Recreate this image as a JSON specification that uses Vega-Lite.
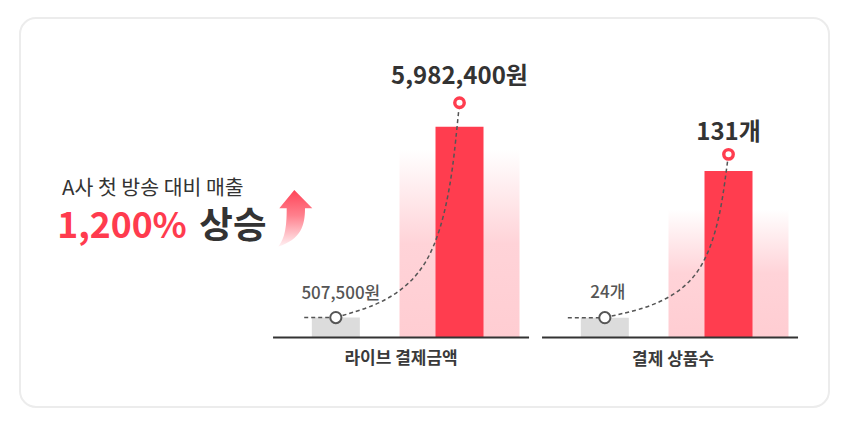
{
  "$schema": "https://vega.github.io/schema/vega-lite/v6.json",
  "width": 849,
  "height": 433,
  "autosize": {"type": "fit", "contains": "padding"},
  "padding": {"left": 20, "top": 18, "right": 20, "bottom": 26},
  "background": "#ffffff",
  "config": {
    "font": "Noto Sans CJK KR",
    "view": {"fill": "#ffffff", "stroke": "#ececec", "strokeWidth": 2, "cornerRadius": 16}
  },
  "datasets": {
    "bars": [
      {"panel": "라이브 결제금액", "period": "before", "value": 507500, "label": "507,500원"},
      {"panel": "라이브 결제금액", "period": "after", "value": 5982400, "label": "5,982,400원"},
      {"panel": "결제 상품수", "period": "before", "value": 24, "label": "24개"},
      {"panel": "결제 상품수", "period": "after", "value": 131, "label": "131개"}
    ],
    "curve": [
      {"panel": "라이브 결제금액", "period": "before", "value": 507500, "order": 1},
      {"panel": "라이브 결제금액", "period": "after", "value": 507500, "order": 2},
      {"panel": "라이브 결제금액", "period": "after", "value": 5982400, "order": 3},
      {"panel": "결제 상품수", "period": "before", "value": 24, "order": 1},
      {"panel": "결제 상품수", "period": "after", "value": 24, "order": 2},
      {"panel": "결제 상품수", "period": "after", "value": 131, "order": 3}
    ],
    "intro": [
      {"part": "sub", "text": "A사 첫 방송 대비 매출"},
      {"part": "pct", "text": "1,200%"},
      {"part": "word", "text": "상승"},
      {"part": "arrow", "text": ""}
    ]
  },
  "layer": [
    {
      "data": {"name": "intro"},
      "layer": [
        {
          "transform": [{"filter": "datum.part === 'sub'"}],
          "mark": {"type": "text", "align": "left", "baseline": "alphabetic", "dx": -362.5, "dy": -18, "fontSize": 20.5, "color": "#333333"},
          "encoding": {"text": {"field": "text"}}
        },
        {
          "transform": [{"filter": "datum.part === 'pct'"}],
          "mark": {"type": "text", "align": "left", "baseline": "alphabetic", "dx": -367.2, "dy": 25.5, "fontSize": 35.5, "fontWeight": "bold", "color": "#ff3b4e"},
          "encoding": {"text": {"field": "text"}}
        },
        {
          "transform": [{"filter": "datum.part === 'word'"}],
          "mark": {"type": "text", "align": "left", "baseline": "alphabetic", "dx": -225.2, "dy": 25.5, "fontSize": 36.5, "fontWeight": "bold", "color": "#333333"},
          "encoding": {"text": {"field": "text"}}
        },
        {
          "transform": [{"filter": "datum.part === 'arrow'"}],
          "mark": {
            "type": "point",
            "shape": "M-0.035,-1 L0.6,-0.353 L0.343,-0.353 C0.343,0.25 0.2,0.75 -0.6,1 C-0.4,0.75 -0.3,0.4 -0.304,-0.353 L-0.565,-0.353 Z",
            "size": 3204,
            "filled": true,
            "opacity": 1,
            "strokeWidth": 0,
            "xOffset": -129.2,
            "yOffset": 5.8,
            "fill": {"gradient": "linear", "x1": 0, "y1": 0, "x2": 0, "y2": 1, "stops": [{"offset": 0, "color": "#ff4458"}, {"offset": 0.45, "color": "#ff808d"}, {"offset": 1, "color": "#fff1f3"}]}
          },
          "encoding": {}
        }
      ]
    },
    {
      "layer": [
        {
          "data": {"name": "bars"},
          "transform": [{"filter": "datum.panel === '라이브 결제금액' && datum.period === 'after'"}],
          "mark": {"type": "bar", "width": 120, "fill": {"gradient": "linear", "x1": 0, "y1": 1, "x2": 0, "y2": 0, "stops": [{"offset": 0, "color": "#ffcdd2"}, {"offset": 0.4, "color": "#ffd3d8"}, {"offset": 0.8, "color": "#ffffff"}, {"offset": 1, "color": "#ffffff"}]}},
          "encoding": {
            "x": {"field": "panel", "type": "nominal", "axis": null, "scale": {"type": "band", "domain": ["라이브 결제금액", "결제 상품수"], "paddingInner": 0.0483, "paddingOuter": 0.5279, "align": 0.891}},
            "xOffset": {"field": "period", "type": "nominal", "scale": {"type": "band", "domain": ["before", "after"], "paddingInner": 0, "paddingOuter": 0.035, "align": 0.11}},
            "y": {"field": "value", "type": "quantitative", "axis": null, "scale": {"domain": [-1770770, 8140440], "nice": false, "zero": false}},
            "y2": {"datum": 0}
          }
        },
        {
          "data": {"name": "bars"},
          "transform": [{"filter": "datum.panel === '라이브 결제금액' && datum.period === 'before'"}],
          "mark": {"type": "bar", "width": 48, "color": "#dcdcdc"},
          "encoding": {
            "x": {"field": "panel", "type": "nominal", "axis": null},
            "xOffset": {"field": "period", "type": "nominal"},
            "y": {"field": "value", "type": "quantitative", "axis": null},
            "y2": {"datum": 0}
          }
        },
        {
          "data": {"name": "bars"},
          "transform": [{"filter": "datum.panel === '라이브 결제금액' && datum.period === 'after'"}],
          "mark": {"type": "bar", "width": 48, "color": "#ff3d4f", "yOffset": 24},
          "encoding": {
            "x": {"field": "panel", "type": "nominal", "axis": null},
            "xOffset": {"field": "period", "type": "nominal"},
            "y": {"field": "value", "type": "quantitative", "axis": null},
            "y2": {"datum": 0}
          }
        },
        {
          "data": {"name": "bars"},
          "transform": [{"filter": "datum.panel === '라이브 결제금액' && datum.period === 'before'"}],
          "mark": {"type": "tick", "orient": "horizontal", "size": 256, "thickness": 2, "color": "#333333", "opacity": 1},
          "encoding": {
            "x": {"field": "panel", "type": "nominal", "axis": null},
            "y": {"datum": 0, "type": "quantitative", "axis": null}
          }
        },
        {
          "data": {"name": "curve"},
          "transform": [{"filter": "datum.panel === '라이브 결제금액'"}],
          "mark": {"type": "line", "interpolate": "bundle", "tension": 0.7, "strokeDash": [4, 3], "strokeWidth": 1.5, "color": "#555555"},
          "encoding": {
            "x": {"field": "panel", "type": "nominal", "axis": null},
            "xOffset": {"field": "period", "type": "nominal"},
            "y": {"field": "value", "type": "quantitative", "axis": null},
            "order": {"field": "order", "type": "quantitative"}
          }
        },
        {
          "data": {"name": "bars"},
          "transform": [{"filter": "datum.panel === '라이브 결제금액' && datum.period === 'before'"}],
          "mark": {"type": "point", "shape": "M-1,0L0,0", "size": 4000, "filled": false, "stroke": "#555555", "strokeWidth": 1.5, "strokeDash": [4, 3], "opacity": 1},
          "encoding": {
            "x": {"field": "panel", "type": "nominal", "axis": null},
            "xOffset": {"field": "period", "type": "nominal"},
            "y": {"field": "value", "type": "quantitative", "axis": null}
          }
        },
        {
          "data": {"name": "bars"},
          "transform": [{"filter": "datum.panel === '라이브 결제금액' && datum.period === 'before'"}],
          "mark": {"type": "point", "shape": "circle", "size": 125, "filled": true, "fill": "#ffffff", "stroke": "#555555", "strokeWidth": 2, "opacity": 1},
          "encoding": {
            "x": {"field": "panel", "type": "nominal", "axis": null},
            "xOffset": {"field": "period", "type": "nominal"},
            "y": {"field": "value", "type": "quantitative", "axis": null}
          }
        },
        {
          "data": {"name": "bars"},
          "transform": [{"filter": "datum.panel === '라이브 결제금액' && datum.period === 'after'"}],
          "mark": {"type": "point", "shape": "circle", "size": 90, "filled": true, "fill": "#ffffff", "stroke": "#ff3d4f", "strokeWidth": 3.4, "opacity": 1},
          "encoding": {
            "x": {"field": "panel", "type": "nominal", "axis": null},
            "xOffset": {"field": "period", "type": "nominal"},
            "y": {"field": "value", "type": "quantitative", "axis": null}
          }
        },
        {
          "data": {"name": "bars"},
          "transform": [{"filter": "datum.panel === '라이브 결제금액' && datum.period === 'before'"}],
          "mark": {"type": "text", "baseline": "alphabetic", "dx": 5, "dy": -19, "fontSize": 17, "fontWeight": 500, "color": "#555555"},
          "encoding": {
            "x": {"field": "panel", "type": "nominal", "axis": null},
            "xOffset": {"field": "period", "type": "nominal"},
            "y": {"field": "value", "type": "quantitative", "axis": null},
            "text": {"field": "label"}
          }
        },
        {
          "data": {"name": "bars"},
          "transform": [{"filter": "datum.panel === '라이브 결제금액' && datum.period === 'after'"}],
          "mark": {"type": "text", "baseline": "alphabetic", "dy": -18.7, "fontSize": 24, "fontWeight": "bold", "color": "#333333"},
          "encoding": {
            "x": {"field": "panel", "type": "nominal", "axis": null},
            "xOffset": {"field": "period", "type": "nominal"},
            "y": {"field": "value", "type": "quantitative", "axis": null},
            "text": {"field": "label"}
          }
        },
        {
          "data": {"name": "bars"},
          "transform": [{"filter": "datum.panel === '라이브 결제금액' && datum.period === 'before'"}],
          "mark": {"type": "text", "baseline": "alphabetic", "dy": 27, "fontSize": 17, "fontWeight": "bold", "color": "#3a3a3a"},
          "encoding": {
            "x": {"field": "panel", "type": "nominal", "axis": null},
            "y": {"datum": 0, "type": "quantitative", "axis": null},
            "text": {"field": "panel"}
          }
        }
      ]
    },
    {
      "layer": [
        {
          "data": {"name": "bars"},
          "transform": [{"filter": "datum.panel === '결제 상품수' && datum.period === 'after'"}],
          "mark": {"type": "bar", "width": 120, "fill": {"gradient": "linear", "x1": 0, "y1": 1, "x2": 0, "y2": 0, "stops": [{"offset": 0, "color": "#ffcdd2"}, {"offset": 0.35, "color": "#ffd3d8"}, {"offset": 0.7, "color": "#ffffff"}, {"offset": 1, "color": "#ffffff"}]}},
          "encoding": {
            "x": {"field": "panel", "type": "nominal", "axis": null},
            "xOffset": {"field": "period", "type": "nominal"},
            "y": {"field": "value", "type": "quantitative", "axis": null, "scale": {"type": "pow", "exponent": 1.31, "domain": [-62.5, 200.3], "nice": false, "zero": false}},
            "y2": {"datum": 0}
          }
        },
        {
          "data": {"name": "bars"},
          "transform": [{"filter": "datum.panel === '결제 상품수' && datum.period === 'before'"}],
          "mark": {"type": "bar", "width": 48, "color": "#dcdcdc"},
          "encoding": {
            "x": {"field": "panel", "type": "nominal", "axis": null},
            "xOffset": {"field": "period", "type": "nominal"},
            "y": {"field": "value", "type": "quantitative", "axis": null},
            "y2": {"datum": 0}
          }
        },
        {
          "data": {"name": "bars"},
          "transform": [{"filter": "datum.panel === '결제 상품수' && datum.period === 'after'"}],
          "mark": {"type": "bar", "width": 48, "color": "#ff3d4f", "yOffset": 16.7},
          "encoding": {
            "x": {"field": "panel", "type": "nominal", "axis": null},
            "xOffset": {"field": "period", "type": "nominal"},
            "y": {"field": "value", "type": "quantitative", "axis": null},
            "y2": {"datum": 0}
          }
        },
        {
          "data": {"name": "bars"},
          "transform": [{"filter": "datum.panel === '결제 상품수' && datum.period === 'before'"}],
          "mark": {"type": "tick", "orient": "horizontal", "size": 256, "thickness": 2, "color": "#333333", "opacity": 1},
          "encoding": {
            "x": {"field": "panel", "type": "nominal", "axis": null},
            "y": {"datum": 0, "type": "quantitative", "axis": null}
          }
        },
        {
          "data": {"name": "curve"},
          "transform": [{"filter": "datum.panel === '결제 상품수'"}],
          "mark": {"type": "line", "interpolate": "bundle", "tension": 0.7, "strokeDash": [4, 3], "strokeWidth": 1.5, "color": "#555555"},
          "encoding": {
            "x": {"field": "panel", "type": "nominal", "axis": null},
            "xOffset": {"field": "period", "type": "nominal"},
            "y": {"field": "value", "type": "quantitative", "axis": null},
            "order": {"field": "order", "type": "quantitative"}
          }
        },
        {
          "data": {"name": "bars"},
          "transform": [{"filter": "datum.panel === '결제 상품수' && datum.period === 'before'"}],
          "mark": {"type": "point", "shape": "M-1,0L0,0", "size": 5476, "filled": false, "stroke": "#555555", "strokeWidth": 1.5, "strokeDash": [4, 3], "opacity": 1},
          "encoding": {
            "x": {"field": "panel", "type": "nominal", "axis": null},
            "xOffset": {"field": "period", "type": "nominal"},
            "y": {"field": "value", "type": "quantitative", "axis": null}
          }
        },
        {
          "data": {"name": "bars"},
          "transform": [{"filter": "datum.panel === '결제 상품수' && datum.period === 'before'"}],
          "mark": {"type": "point", "shape": "circle", "size": 125, "filled": true, "fill": "#ffffff", "stroke": "#555555", "strokeWidth": 2, "opacity": 1},
          "encoding": {
            "x": {"field": "panel", "type": "nominal", "axis": null},
            "xOffset": {"field": "period", "type": "nominal"},
            "y": {"field": "value", "type": "quantitative", "axis": null}
          }
        },
        {
          "data": {"name": "bars"},
          "transform": [{"filter": "datum.panel === '결제 상품수' && datum.period === 'after'"}],
          "mark": {"type": "point", "shape": "circle", "size": 90, "filled": true, "fill": "#ffffff", "stroke": "#ff3d4f", "strokeWidth": 3.4, "opacity": 1},
          "encoding": {
            "x": {"field": "panel", "type": "nominal", "axis": null},
            "xOffset": {"field": "period", "type": "nominal"},
            "y": {"field": "value", "type": "quantitative", "axis": null}
          }
        },
        {
          "data": {"name": "bars"},
          "transform": [{"filter": "datum.panel === '결제 상품수' && datum.period === 'before'"}],
          "mark": {"type": "text", "baseline": "alphabetic", "dx": 3, "dy": -19.4, "fontSize": 17, "fontWeight": 500, "color": "#555555"},
          "encoding": {
            "x": {"field": "panel", "type": "nominal", "axis": null},
            "xOffset": {"field": "period", "type": "nominal"},
            "y": {"field": "value", "type": "quantitative", "axis": null},
            "text": {"field": "label"}
          }
        },
        {
          "data": {"name": "bars"},
          "transform": [{"filter": "datum.panel === '결제 상품수' && datum.period === 'after'"}],
          "mark": {"type": "text", "baseline": "alphabetic", "dy": -14.3, "fontSize": 24, "fontWeight": "bold", "color": "#333333"},
          "encoding": {
            "x": {"field": "panel", "type": "nominal", "axis": null},
            "xOffset": {"field": "period", "type": "nominal"},
            "y": {"field": "value", "type": "quantitative", "axis": null},
            "text": {"field": "label"}
          }
        },
        {
          "data": {"name": "bars"},
          "transform": [{"filter": "datum.panel === '결제 상품수' && datum.period === 'before'"}],
          "mark": {"type": "text", "baseline": "alphabetic", "dx": 3, "dy": 27, "fontSize": 17, "fontWeight": "bold", "color": "#3a3a3a"},
          "encoding": {
            "x": {"field": "panel", "type": "nominal", "axis": null},
            "y": {"datum": 0, "type": "quantitative", "axis": null},
            "text": {"field": "panel"}
          }
        }
      ]
    }
  ],
  "resolve": {"scale": {"y": "independent"}}
}
